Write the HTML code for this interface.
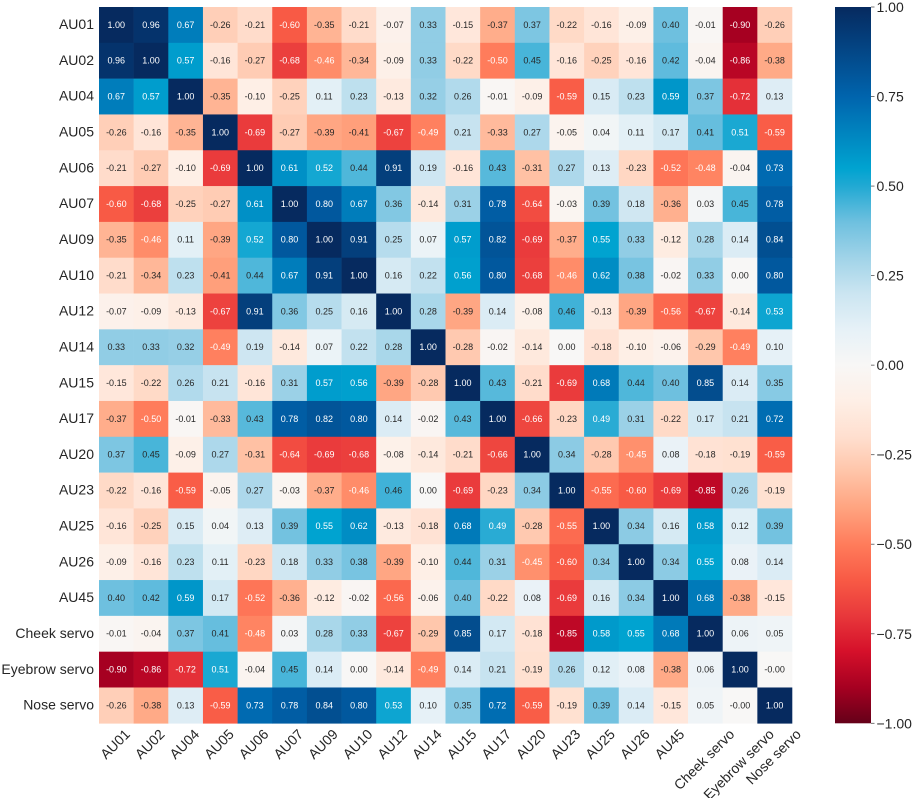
<!DOCTYPE html>
<html lang="en">
<head>
<meta charset="utf-8">
<title>Correlation heatmap</title>
<style>
  html, body { margin: 0; padding: 0; background: #fff; }
  svg { display: block; font-family: "Liberation Sans", Arial, sans-serif; }
</style>
</head>
<body>
<svg id="chart" width="913" height="798" viewBox="0 0 913 798" xmlns="http://www.w3.org/2000/svg">
  <defs>
    <linearGradient id="cbar-gradient" x1="0" y1="0" x2="0" y2="1"></linearGradient>
  </defs>
  <g id="cells"></g>
  <g id="annotations"></g>
  <g id="y-labels"></g>
  <g id="x-labels"></g>
  <g id="colorbar"></g>
</svg>
<script>
const categories = ["AU01","AU02","AU04","AU05","AU06","AU07","AU09","AU10","AU12","AU14","AU15","AU17","AU20","AU23","AU25","AU26","AU45","Cheek servo","Eyebrow servo","Nose servo"];

const rowAU01 = [1.00,0.96,0.67,-0.26,-0.21,-0.60,-0.35,-0.21,-0.07,0.33,-0.15,-0.37,0.37,-0.22,-0.16,-0.09,0.40,-0.01,-0.90,-0.26];
const rowAU02 = [0.96,1.00,0.57,-0.16,-0.27,-0.68,-0.46,-0.34,-0.09,0.33,-0.22,-0.50,0.45,-0.16,-0.25,-0.16,0.42,-0.04,-0.86,-0.38];
const rowAU04 = [0.67,0.57,1.00,-0.35,-0.10,-0.25,0.11,0.23,-0.13,0.32,0.26,-0.01,-0.09,-0.59,0.15,0.23,0.59,0.37,-0.72,0.13];
const rowAU05 = [-0.26,-0.16,-0.35,1.00,-0.69,-0.27,-0.39,-0.41,-0.67,-0.49,0.21,-0.33,0.27,-0.05,0.04,0.11,0.17,0.41,0.51,-0.59];
const rowAU06 = [-0.21,-0.27,-0.10,-0.69,1.00,0.61,0.52,0.44,0.91,0.19,-0.16,0.43,-0.31,0.27,0.13,-0.23,-0.52,-0.48,-0.04,0.73];
const rowAU07 = [-0.60,-0.68,-0.25,-0.27,0.61,1.00,0.80,0.67,0.36,-0.14,0.31,0.78,-0.64,-0.03,0.39,0.18,-0.36,0.03,0.45,0.78];
const rowAU09 = [-0.35,-0.46,0.11,-0.39,0.52,0.80,1.00,0.91,0.25,0.07,0.57,0.82,-0.69,-0.37,0.55,0.33,-0.12,0.28,0.14,0.84];
const rowAU10 = [-0.21,-0.34,0.23,-0.41,0.44,0.67,0.91,1.00,0.16,0.22,0.56,0.80,-0.68,-0.46,0.62,0.38,-0.02,0.33,0.00,0.80];
const rowAU12 = [-0.07,-0.09,-0.13,-0.67,0.91,0.36,0.25,0.16,1.00,0.28,-0.39,0.14,-0.08,0.46,-0.13,-0.39,-0.56,-0.67,-0.14,0.53];
const rowAU14 = [0.33,0.33,0.32,-0.49,0.19,-0.14,0.07,0.22,0.28,1.00,-0.28,-0.02,-0.14,0.00,-0.18,-0.10,-0.06,-0.29,-0.49,0.10];
const rowAU15 = [-0.15,-0.22,0.26,0.21,-0.16,0.31,0.57,0.56,-0.39,-0.28,1.00,0.43,-0.21,-0.69,0.68,0.44,0.40,0.85,0.14,0.35];
const rowAU17 = [-0.37,-0.50,-0.01,-0.33,0.43,0.78,0.82,0.80,0.14,-0.02,0.43,1.00,-0.66,-0.23,0.49,0.31,-0.22,0.17,0.21,0.72];
const rowAU20 = [0.37,0.45,-0.09,0.27,-0.31,-0.64,-0.69,-0.68,-0.08,-0.14,-0.21,-0.66,1.00,0.34,-0.28,-0.45,0.08,-0.18,-0.19,-0.59];
const rowAU23 = [-0.22,-0.16,-0.59,-0.05,0.27,-0.03,-0.37,-0.46,0.46,0.00,-0.69,-0.23,0.34,1.00,-0.55,-0.60,-0.69,-0.85,0.26,-0.19];
const rowAU25 = [-0.16,-0.25,0.15,0.04,0.13,0.39,0.55,0.62,-0.13,-0.18,0.68,0.49,-0.28,-0.55,1.00,0.34,0.16,0.58,0.12,0.39];
const rowAU26 = [-0.09,-0.16,0.23,0.11,-0.23,0.18,0.33,0.38,-0.39,-0.10,0.44,0.31,-0.45,-0.60,0.34,1.00,0.34,0.55,0.08,0.14];
const rowAU45 = [0.40,0.42,0.59,0.17,-0.52,-0.36,-0.12,-0.02,-0.56,-0.06,0.40,-0.22,0.08,-0.69,0.16,0.34,1.00,0.68,-0.38,-0.15];
const rowCheek = [-0.01,-0.04,0.37,0.41,-0.48,0.03,0.28,0.33,-0.67,-0.29,0.85,0.17,-0.18,-0.85,0.58,0.55,0.68,1.00,0.06,0.05];
const rowEyebrow = [-0.90,-0.86,-0.72,0.51,-0.04,0.45,0.14,0.00,-0.14,-0.49,0.14,0.21,-0.19,0.26,0.12,0.08,-0.38,0.06,1.00,-0.001];
const rowNose = [-0.26,-0.38,0.13,-0.59,0.73,0.78,0.84,0.80,0.53,0.10,0.35,0.72,-0.59,-0.19,0.39,0.14,-0.15,0.05,-0.001,1.00];
const matrix = [rowAU01,rowAU02,rowAU04,rowAU05,rowAU06,rowAU07,rowAU09,rowAU10,rowAU12,rowAU14,rowAU15,rowAU17,rowAU20,rowAU23,rowAU25,rowAU26,rowAU45,rowCheek,rowEyebrow,rowNose];

const colorbarTicks = [1.00,0.75,0.50,0.25,0.00,-0.25,-0.50,-0.75,-1.00];

const NS = "http://www.w3.org/2000/svg";
const plot = { left: 99, right: 792, top: 7, bottom: 723.3 };
const bar = { left: 835, right: 871 };
const cellW = (plot.right - plot.left) / categories.length;
const cellH = (plot.bottom - plot.top) / categories.length;

function xScale(i) { return plot.left + i * cellW; }
function yScale(i) { return plot.top + i * cellH; }
function barY(v) { return plot.top + (1 - v) / 2 * (plot.bottom - plot.top); }

const rampDomain = [-1,-0.9,-0.8,-0.7,-0.6,-0.5,-0.4,-0.3,-0.2,-0.1,0,0.1,0.2,0.3,0.4,0.5,0.55,0.75,0.9,1];
const rampColors = [[101,0,25],[166,0,33],[213,16,42],[232,56,59],[248,90,69],[255,124,91],[255,163,127],[255,196,168],[255,223,207],[254,239,230],[248,247,246],[230,241,247],[203,229,241],[160,211,232],[110,192,223],[33,169,211],[0,163,208],[0,100,173],[4,65,127],[6,42,95]];

function colorScale(v) {
  const c = Math.max(-1, Math.min(1, v));
  let k = 0;
  while (k < rampDomain.length - 2 && c > rampDomain[k + 1]) k++;
  const t = (c - rampDomain[k]) / (rampDomain[k + 1] - rampDomain[k]);
  const a = rampColors[k], b = rampColors[k + 1];
  return "rgb(" + [0,1,2].map(j => Math.round(a[j] + (b[j] - a[j]) * t)).join(",") + ")";
}
function textColor(v) { return (v >= 0.47 || v <= -0.44) ? "#ffffff" : "#262626"; }

function make(tag, attrs, parent, text) {
  const el = document.createElementNS(NS, tag);
  for (const k in attrs) el.setAttribute(k, attrs[k]);
  if (text !== undefined) el.textContent = text;
  parent.appendChild(el);
  return el;
}

const cellsG = document.getElementById("cells");
const annG = document.getElementById("annotations");
matrix.forEach((row, r) => {
  row.forEach((v, c) => {
    const rect = make("rect", { x: xScale(c), y: yScale(r), width: cellW + 0.3, height: cellH + 0.3, fill: colorScale(v) }, cellsG);
    
    
    const t = make("text", { x: xScale(c) + cellW / 2, y: yScale(r) + cellH / 2 + 2.9, "text-anchor": "middle", "font-size": "9", fill: textColor(v) }, annG, v.toFixed(2));
    
    
  });
});

const yG = document.getElementById("y-labels");
const xG = document.getElementById("x-labels");
categories.forEach((name, i) => {
  const yl = make("text", { x: 94, y: yScale(i) + cellH / 2 + 4.2, "text-anchor": "end", "font-size": "14", fill: "#262626" }, yG, name);
  
  

  const xl = make("text", { "text-anchor": "middle", "font-size": "14", fill: "#262626" }, xG, name);
  
  
  const len = xl.getComputedTextLength();
  const cx = xScale(i) + cellW / 2 - 1.4;
  const cy = 729.5 + (len + 6) * Math.SQRT1_2 / 2;
  xl.setAttribute("transform", "translate(" + cx + "," + cy + ") rotate(-45) translate(0,5)");
});

const grad = document.getElementById("cbar-gradient");
for (let k = rampDomain.length - 1; k >= 0; k--) {
  const stop = make("stop", { offset: (1 - rampDomain[k]) / 2, "stop-color": colorScale(rampDomain[k]) }, grad);
  
  
}

const cbG = document.getElementById("colorbar");
const barRect = make("rect", { x: bar.left, y: plot.top, width: bar.right - bar.left, height: plot.bottom - plot.top, fill: "url(#cbar-gradient)" }, cbG);



colorbarTicks.forEach(v => {
  const y = barY(v);
  const tick = make("line", { x1: bar.right, x2: bar.right + 3.5, y1: y, y2: y, stroke: "#555", "stroke-width": "0.8" }, cbG);
  
  
  const label = (v < 0 ? "\u2212" : "") + Math.abs(v).toFixed(2);
  const t = make("text", { x: 876.5, y: y + 5, "font-size": "14", fill: "#262626" }, cbG, label);
  
  
});
</script>
</body>
</html>
